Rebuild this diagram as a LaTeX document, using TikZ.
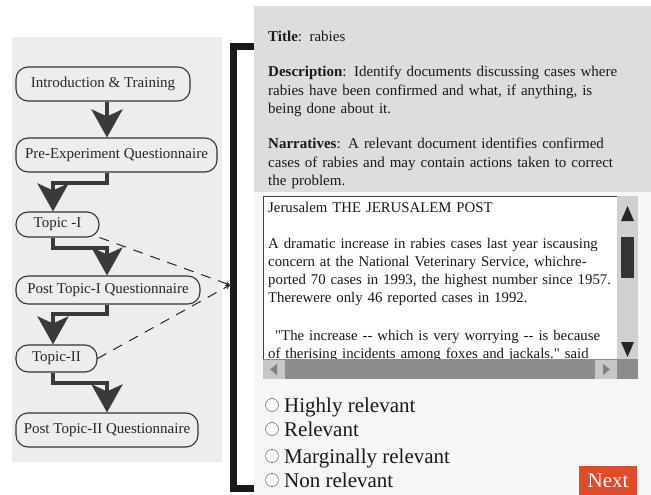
\documentclass[tikz,border=0pt]{standalone}
\usepackage{fontspec}
\setmainfont{Liberation Serif}[Ligatures=TeXOff]
\usetikzlibrary{arrows.meta}
\definecolor{panelgray}{HTML}{ECEDED}
\definecolor{topicgray}{HTML}{DCDDDF}
\definecolor{formgray}{HTML}{F5F7F7}
\definecolor{arrowgray}{HTML}{3A3A3A}
\definecolor{scrollgray}{HTML}{D0D0D0}
\definecolor{nextred}{HTML}{E04B2A}

\begin{document}
\begin{tikzpicture}[x=1pt, y=-1pt,
    flowbox/.style={draw=black!80, line width=1.1pt, rounded corners=12pt, fill=panelgray, inner sep=0pt, text=black!85, font=\fontsize{15}{18}\selectfont},
    flowarrow/.style={draw=arrowgray, line width=4pt, -{Stealth[length=28pt, width=31pt, inset=7pt]}},
    dashline/.style={black!85, line width=1pt, dash pattern=on 10pt off 8pt},
    infotext/.style={anchor=north west, inner sep=0pt, text width=375pt, align=left, text=black!90, font=\fontsize{15}{18.5}\selectfont},
    radio/.style={circle, draw=black!45, fill=white, line width=0.8pt, minimum size=13pt, inner sep=0pt},
    choice/.style={anchor=base west, inner sep=0pt, text=black!90, font=\fontsize{21}{22}\selectfont}]
    \useasboundingbox (0,0) rectangle (651,495);

    \fill[panelgray] (12,37) rectangle (222,462);
    \fill[topicgray] (254,6) rectangle (651,192);
    \fill[formgray] (254,192) rectangle (651,495);

    \coordinate (R) at (107,0);
    \coordinate (L) at (53,0);
    \coordinate (hub) at (230,285);

    \node[flowbox, minimum width=174pt, minimum height=34pt] (intro) at (103,84) {Introduction \& Training};
    \node[flowbox, minimum width=201pt, minimum height=34pt] (pre) at (116.5,155) {Pre-Experiment Questionnaire};
    \node[flowbox, minimum width=83pt, minimum height=25pt] (topicI) at (57.5,224.5) {Topic -I\hspace{8pt}};
    \node[flowbox, minimum width=184pt, minimum height=28pt] (postI) at (108,290) {Post Topic-I Questionnaire};
    \node[flowbox, minimum width=81pt, minimum height=27pt] (topicII) at (56.5,358.5) {Topic-II};
    \node[flowbox, minimum width=182pt, minimum height=34pt] (postII) at (107,430) {Post Topic-II Questionnaire};

    \draw[flowarrow] (intro.south -| R) -- (pre.north -| R);
    \draw[flowarrow] (pre.south -| R) -- ++(0,10) -| (topicI.north -| L);
    \draw[flowarrow] (topicI.south -| L) -- ++(0,10) -| (postI.north -| R);
    \draw[flowarrow] (postI.south -| R) -- ++(0,9) -| (topicII.north -| L);
    \draw[flowarrow] (topicII.south -| L) -- ++(0,10) -| (postII.north -| R);

    \draw[dashline, ->, >=stealth] (topicI.south east) -- (hub);
    \draw[dashline, ->, >=stealth] (topicII.east) -- (hub);

    \draw[black!90, line width=7pt] (254,47) -- (233.5,47) -- (233.5,488) -- (254,488);

    \node[infotext] (title) at (268,31) {\textbf{Title}: rabies};
    \node[infotext] (desc) at (268,66) {\textbf{Description}: Identify documents discussing cases where\\
        rabies have been confirmed and what, if anything, is\\
        being done about it.};
    \node[infotext] (narr) at (268,138) {\textbf{Narratives}: A relevant document identifies confirmed\\
        cases of rabies and may contain actions taken to correct\\
        the problem.};

    \fill[white] (263,196) rectangle (617,359);
    \begin{scope}
        \clip (263,196) rectangle (617,359);
        \node[infotext, font=\fontsize{14.8}{18}\selectfont] (doc) at (268,202) {Jerusalem THE JERUSALEM POST\\[18pt]
            A dramatic increase in rabies cases last year iscausing\\
            concern at the National Veterinary Service, whichre-\\
            ported 70 cases in 1993, the highest number since 1957.\\
            Therewere only 46 reported cases in 1992.\\[20pt]
            \hspace*{7pt}"The increase -- which is very worrying -- is because\\
            of therising incidents among foxes and jackals." said};
    \end{scope}
    \draw[black!75, line width=1pt] (263,359) -- (263,196) -- (617,196);

    \fill[scrollgray] (617,196) rectangle (638,359);
    \fill[black!85] (627.5,206) -- (634,221) -- (621,221) -- cycle;
    \fill[black!80] (621,237) rectangle (634,278);
    \fill[black!85] (621,342) -- (634,342) -- (627.5,357) -- cycle;
    \fill[black!45] (263,359) rectangle (638,379);
    \fill[black!22] (263,360) rectangle (285,379);
    \fill[black!22] (595,360) rectangle (617,379);
    \fill[black!50] (277,364) -- (277,375) -- (270,369.5) -- cycle;
    \fill[black!50] (603,364) -- (603,375) -- (610,369.5) -- cycle;

    \node[radio] (r1) at (272,405) {};
    \node[radio] (r2) at (272,429) {};
    \node[radio] (r3) at (272,456) {};
    \node[radio] (r4) at (272,480) {};
    \node[choice] (c1) at (284,412) {Highly relevant};
    \node[choice] (c2) at (284,436) {Relevant};
    \node[choice] (c3) at (284,463) {Marginally relevant};
    \node[choice] (c4) at (284,487) {Non relevant};

    \node[fill=nextred, text=white, minimum width=58pt, minimum height=29pt, inner sep=0pt, font=\fontsize{21}{21}\selectfont] (next) at (608,480.5) {Next};
\end{tikzpicture}
\end{document}
